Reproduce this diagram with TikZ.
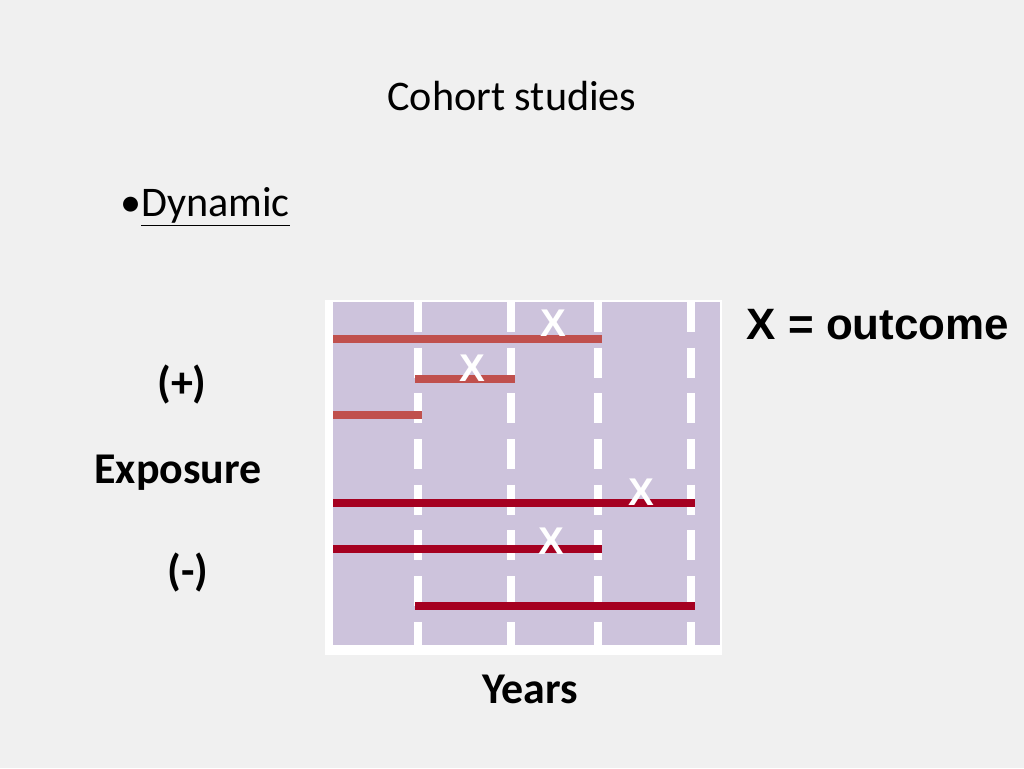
\documentclass[tikz,border=0pt]{standalone}
\usepackage{fontspec}
\setmainfont{Carlito}
\newfontfamily\arialfont{Liberation Sans}
\definecolor{pagebg}{HTML}{F0F0F0}
\definecolor{lavender}{HTML}{CDC3DC}
\definecolor{salmon}{HTML}{C0504D}
\definecolor{darkred}{HTML}{A50021}
\tikzset{
  lifeline/.style={line width=4.5pt},
  mark x/.style={text=white,font=\arialfont\bfseries\fontsize{22}{22}\selectfont},
  bigbold/.style={font=\bfseries\fontsize{25}{25}\selectfont}
}
\begin{document}
\begin{tikzpicture}[x=0.02cm,y=-0.02cm]
          \fill[pagebg] (0,0) rectangle (1024,768);
          \fill[white] (325,300) rectangle (722,655);
          \fill[lavender] (333,302) rectangle (720,645);
          \foreach \i in {418,511,598,691}{
            \draw[white,line width=4.5pt,dash pattern=on 17pt off 9pt] (\i,302) -- (\i,655);}
          \node (title) at (512,96) {\fontsize{24}{24}\selectfont Cohort studies};
          \node (dyn) at (205,207) {\fontsize{24}{24}\selectfont\textbullet\underline{Dynamic}};
          \node[bigbold] (plus) at (182,385) {(+)};
          \node[bigbold] (expo) at (178,473) {Exposure};
          \node[bigbold] (minus) at (188,573) {(-)};
          \node[bigbold] (years) at (530,689) {Years};
          \node[font=\arialfont\bfseries\fontsize{25}{25}\selectfont] (legend) at (878,325) {X = outcome};
          % exposed
          \draw[lifeline,salmon] (333,339) -- (602,339);
          \draw[lifeline,salmon] (415,379) -- (515,379);
          \draw[lifeline,salmon] (333,415) -- (422,415);
          % unexposed
          \draw[lifeline,darkred] (333,503) -- (695,503);
          \draw[lifeline,darkred] (333,549) -- (602,549);
          \draw[lifeline,darkred] (415,606) -- (695,606);
          \node[mark x] (x1) at (553,323) {X};
          \node[mark x] (x2) at (472,368) {X};
          \node[mark x] (x3) at (641,492) {X};
          \node[mark x] (x4) at (551,541) {X};
\end{tikzpicture}
\end{document}
